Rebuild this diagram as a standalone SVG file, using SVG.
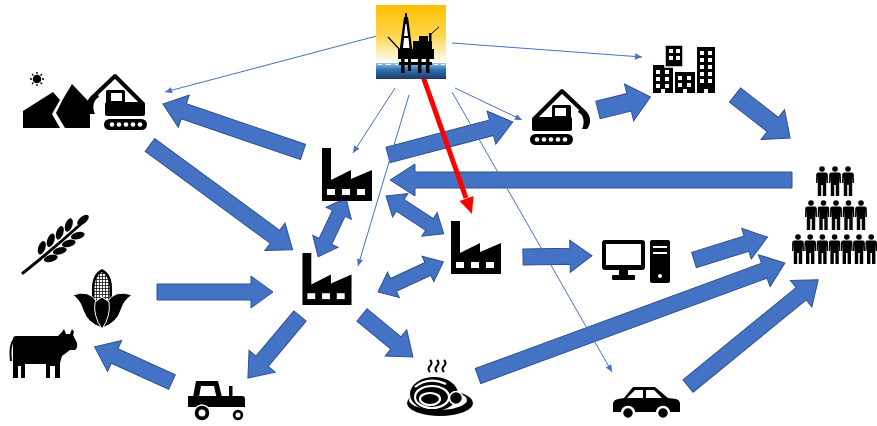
<svg xmlns="http://www.w3.org/2000/svg" xmlns:xlink="http://www.w3.org/1999/xlink" width="877" height="426" viewBox="0 0 877 426">
  <style>
    .blk { fill: #4472C4; stroke: #2F528F; stroke-width: 1; }
    .thin { stroke: #4472C4; stroke-width: 1; fill: none; marker-end: url(#ah); }
    .wht { fill: #fff; }
  </style>
  <defs>
    <marker id="ah" viewBox="0 0 10 10" refX="10" refY="5" markerWidth="8" markerHeight="7" markerUnits="userSpaceOnUse" orient="auto">
      <path d="M0,0.5 L10,5 L0,9.5 Z" fill="#4472C4"/>
    </marker>
    <linearGradient id="sky" x1="0" y1="0" x2="0" y2="1">
      <stop offset="0" stop-color="#FFC000"/>
      <stop offset="0.4" stop-color="#FFD54A"/>
      <stop offset="0.8" stop-color="#FFFFFF"/>
    </linearGradient>
    <linearGradient id="sea" x1="0" y1="0" x2="0" y2="1">
      <stop offset="0" stop-color="#9DC3E6"/>
      <stop offset="0.4" stop-color="#2E75B6"/>
      <stop offset="1" stop-color="#1F3864"/>
    </linearGradient>
    <pattern id="kernels" width="3" height="3" patternUnits="userSpaceOnUse">
      <rect width="3" height="3" fill="#fff"/>
      <path d="M0,0.4 H3 M0.4,0 V3" stroke="#000" stroke-width="0.8"/>
    </pattern>
    <symbol id="factory" viewBox="0 0 50 53">
      <path d="M0 0H9V32L29 22V31L50 22V53H0Z"/>
      <rect class="wht" x="5" y="41" width="8" height="6"/>
      <rect class="wht" x="20" y="41" width="8" height="6"/>
      <rect class="wht" x="35" y="41" width="8" height="6"/>
    </symbol>
    <symbol id="exc" viewBox="0 0 62 58">
      <path d="M4,31 L32,3 L54,24" fill="none" stroke="#000" stroke-width="4" stroke-linejoin="round"/>
      <path d="M50,20 C60,22 63,34 57,41 L52,41 C55,34 54,27 48,24 Z"/>
      <rect x="22" y="17" width="19" height="14" rx="1.5"/>
      <rect class="wht" x="25" y="20" width="11" height="8"/>
      <rect x="2" y="29" width="40" height="14" rx="2"/>
      <rect x="0" y="46" width="43" height="11" rx="5.5"/>
      <g class="wht">
        <circle cx="7" cy="51.5" r="2.3"/><circle cx="14" cy="51.5" r="2.3"/><circle cx="21" cy="51.5" r="2.3"/><circle cx="28" cy="51.5" r="2.3"/><circle cx="35" cy="51.5" r="2.3"/>
      </g>
    </symbol>
    <symbol id="person" viewBox="0 0 12 30">
      <circle cx="6" cy="3" r="2.8"/>
      <path d="M2.2,6.5 H9.8 Q11.6,6.5 11.8,8.5 L12,17 H10.6 L10.2,10 V30 H6.8 V19 H5.2 V30 H1.8 V10 L1.4,17 H0 L0.2,8.5 Q0.4,6.5 2.2,6.5 Z"/>
    </symbol>
  </defs>

  <rect width="877" height="426" fill="#fff"/>

  <!-- connectors -->
  <g id="connectors">
    <!-- block arrows -->
    <polygon class="blk" transform="translate(303,152) rotate(-161.1)" points="0,-8 126,-8 126,-17 148,0 126,17 126,8 0,8"/>
    <polygon class="blk" transform="translate(150,145) rotate(36.3)" points="0,-8 155,-8 155,-17 177,0 155,17 155,8 0,8"/>
    <polygon class="blk" transform="translate(388,155) rotate(-14.8)" points="0,-8 107,-8 107,-17 129,0 107,17 107,8 0,8"/>
    <polygon class="blk" transform="translate(598,110) rotate(-14)" points="0,-9 32,-9 32,-19 54,0 32,19 32,9 0,9"/>
    <polygon class="blk" transform="translate(735,95) rotate(38)" points="0,-9 48,-9 48,-19 70,0 48,19 48,9 0,9"/>
    <polygon class="blk" transform="translate(792,180) rotate(180)" points="0,-8 377,-8 377,-16 402,0 377,16 377,8 0,8"/>
    <polygon class="blk" transform="translate(346,198) rotate(115.4)" points="0,0 17,-14 17,-7 48,-7 48,-14 65,0 48,14 48,7 17,7 17,14"/>
    <polygon class="blk" transform="translate(386,196) rotate(33.2)" points="0,0 17,-14 17,-7 52,-7 52,-14 69,0 52,14 52,7 17,7 17,14"/>
    <polygon class="blk" transform="translate(378,292) rotate(-24.8)" points="0,0 17,-14 17,-7 55,-7 55,-14 72,0 55,14 55,7 17,7 17,14"/>
    <polygon class="blk" transform="translate(157,292)" points="0,-8 94,-8 94,-16 116,0 94,16 94,8 0,8"/>
    <polygon class="blk" transform="translate(523,257) rotate(-1)" points="0,-8 47,-8 47,-16 69,0 47,16 47,8 0,8"/>
    <polygon class="blk" transform="translate(694,260) rotate(-17.3)" points="0,-8 55,-8 55,-16 77,0 55,16 55,8 0,8"/>
    <polygon class="blk" transform="translate(300,316) rotate(130)" points="0,-8 59,-8 59,-17 81,0 59,17 59,8 0,8"/>
    <polygon class="blk" transform="translate(362,315) rotate(39.5)" points="0,-8 44,-8 44,-17 66,0 44,17 44,8 0,8"/>
    <polygon class="blk" transform="translate(172,382) rotate(-155.6)" points="0,-8 63,-8 63,-17 85,0 63,17 63,8 0,8"/>
    <polygon class="blk" transform="translate(478,376) rotate(-20.2)" points="0,-8 305,-8 305,-17 327,0 305,17 305,8 0,8"/>
    <polygon class="blk" transform="translate(688,386) rotate(-39.2)" points="0,-8 146,-8 146,-17 168,0 146,17 146,8 0,8"/>
    <!-- thin lines from the rig -->
    <line class="thin" x1="388" y1="33" x2="165" y2="92"/>
    <line class="thin" x1="452" y1="43" x2="642" y2="57"/>
    <line class="thin" x1="395" y1="88" x2="353" y2="153"/>
    <line class="thin" x1="409" y1="95" x2="358" y2="266"/>
    <line class="thin" x1="455" y1="88" x2="522" y2="120"/>
    <line class="thin" x1="452" y1="92" x2="612" y2="372"/>
    <!-- red arrow -->
    <line x1="420" y1="68" x2="466" y2="198" stroke="#FF0000" stroke-width="5"/>
    <polygon points="472,214 473.5,196 459.5,201" fill="#FF0000"/>
  </g>

  <!-- oil platform -->
  <g id="oil-rig">
    <rect x="376" y="5" width="70" height="74" fill="url(#sky)"/>
    <rect x="376" y="63" width="70" height="16" fill="url(#sea)"/>
    <path d="M378,64.5 h4 M386,64.5 h5 M395,64.5 h3 M434,64.5 h4 M441,64.5 h4" stroke="#fff" stroke-width="1"/>
    <g fill="#000">
      <polygon points="404,17 408,17 412.5,51 399.5,51"/>
      <path class="wht" d="M405.5,24 h1 l1.5,12 h-4 Z M404,38 h4.5 l1,10 h-6.5 Z"/>
      <rect x="405" y="13" width="2" height="5"/>
      <path d="M388,37 L401,51" stroke="#000" stroke-width="1.2"/>
      <path d="M431,34 L439,27" stroke="#000" stroke-width="1"/>
      <rect x="398" y="49" width="36" height="10"/>
      <rect x="413" y="41" width="19" height="9"/>
      <rect x="419" y="36" width="9" height="6"/>
      <rect x="429" y="33" width="2.5" height="17"/>
      <rect x="401" y="58" width="3.5" height="15"/>
      <rect x="408" y="58" width="3" height="13"/>
      <rect x="418" y="58" width="3.5" height="15"/>
      <rect x="426" y="58" width="3.5" height="15"/>
      <rect x="399" y="62" width="33" height="3"/>
    </g>
  </g>

  <!-- mining -->
  <g id="mining">
    <g stroke="#000" stroke-width="1.3">
      <circle cx="37" cy="79" r="3.6"/>
      <path d="M37,72 V74 M37,84 V86 M30,79 H32 M42,79 H44 M32,74 L33.5,75.5 M40.5,82.5 L42,84 M42,74 L40.5,75.5 M33.5,82.5 L32,84"/>
    </g>
    <path d="M23,128 L23,111 L53,92 L60,100 L52,114 L60,128 Z"/>
    <path d="M56,113 L63,99 L72,84 L90,103 L90,128 L65,128 Z"/>
    <use xlink:href="#exc" width="62" height="58" transform="translate(147,73) scale(-1,1)"/>
  </g>

  <!-- factories -->
  <g id="factory-a"><use xlink:href="#factory" x="322" y="148" width="50" height="53"/></g>
  <g id="factory-b"><use xlink:href="#factory" x="302" y="253" width="50" height="52"/></g>
  <g id="factory-c"><use xlink:href="#factory" x="450" y="221" width="52" height="53"/></g>

  <!-- construction -->
  <g id="excavator"><use xlink:href="#exc" x="530" y="88" width="62" height="58"/></g>

  <!-- city -->
  <g id="city">
    <rect x="653" y="65" width="20" height="28"/>
    <rect x="675" y="72" width="20" height="21"/>
    <rect x="697" y="47" width="18" height="46"/>
    <rect x="665" y="45" width="18" height="22" stroke="#fff" stroke-width="1.5"/>
    <g class="wht">
      <rect x="656" y="70" width="4" height="4"/><rect x="665" y="70" width="4" height="4"/>
      <rect x="656" y="77" width="4" height="4"/><rect x="665" y="77" width="4" height="4"/>
      <rect x="656" y="84" width="4" height="4"/><rect x="665" y="84" width="4" height="4"/>
      <rect x="678" y="76" width="4" height="4"/><rect x="687" y="76" width="4" height="4"/>
      <rect x="678" y="83" width="4" height="4"/><rect x="687" y="83" width="4" height="4"/>
      <rect x="700" y="51" width="4" height="4"/><rect x="708" y="51" width="4" height="4"/>
      <rect x="700" y="58" width="4" height="4"/><rect x="708" y="58" width="4" height="4"/>
      <rect x="700" y="65" width="4" height="4"/><rect x="708" y="65" width="4" height="4"/>
      <rect x="700" y="72" width="4" height="4"/><rect x="708" y="72" width="4" height="4"/>
      <rect x="700" y="79" width="4" height="4"/><rect x="708" y="79" width="4" height="4"/>
      <rect x="669" y="49" width="4" height="4"/><rect x="676" y="49" width="4" height="4"/>
      <rect x="669" y="56" width="4" height="4"/><rect x="676" y="56" width="4" height="4"/>
      <rect x="661" y="89" width="4" height="4"/><rect x="683" y="89" width="4" height="4"/><rect x="704" y="89" width="4" height="4"/>
    </g>
  </g>

  <!-- population -->
  <g id="people">
    <use xlink:href="#person" x="816" y="166" width="12" height="30"/>
    <use xlink:href="#person" x="829" y="166" width="12" height="30"/>
    <use xlink:href="#person" x="842" y="166" width="12" height="30"/>
    <use xlink:href="#person" x="805" y="200" width="12" height="30"/>
    <use xlink:href="#person" x="817.5" y="200" width="12" height="30"/>
    <use xlink:href="#person" x="830" y="200" width="12" height="30"/>
    <use xlink:href="#person" x="842.5" y="200" width="12" height="30"/>
    <use xlink:href="#person" x="855" y="200" width="12" height="30"/>
    <use xlink:href="#person" x="792" y="234" width="12" height="30"/>
    <use xlink:href="#person" x="804.2" y="234" width="12" height="30"/>
    <use xlink:href="#person" x="816.4" y="234" width="12" height="30"/>
    <use xlink:href="#person" x="828.6" y="234" width="12" height="30"/>
    <use xlink:href="#person" x="840.8" y="234" width="12" height="30"/>
    <use xlink:href="#person" x="853" y="234" width="12" height="30"/>
    <use xlink:href="#person" x="865.2" y="234" width="12" height="30"/>
  </g>

  <!-- computer -->
  <g id="computer">
    <rect x="602" y="240" width="43" height="30" rx="3"/>
    <rect class="wht" x="606" y="244" width="35" height="21"/>
    <rect x="619" y="269" width="9" height="7"/>
    <rect x="612" y="275" width="23" height="5" rx="1"/>
    <rect x="650" y="240" width="20" height="43" rx="2"/>
    <rect class="wht" x="653" y="246" width="14" height="2"/>
    <rect class="wht" x="653" y="252" width="14" height="2"/>
    <circle class="wht" cx="660" cy="276" r="2"/>
  </g>

  <!-- grain -->
  <g id="wheat">
    <path d="M23,273 Q52,250 82,223" fill="none" stroke="#000" stroke-width="3" stroke-linecap="round"/>
    <g>
      <ellipse cx="41.8" cy="247.8" rx="7" ry="3.5" transform="rotate(-70 41.8 247.8)"/>
      <ellipse cx="50.8" cy="258.4" rx="7" ry="3.5" transform="rotate(-15 50.8 258.4)"/>
      <ellipse cx="50.8" cy="240.3" rx="7" ry="3.5" transform="rotate(-70 50.8 240.3)"/>
      <ellipse cx="59.8" cy="250.9" rx="7" ry="3.5" transform="rotate(-15 59.8 250.9)"/>
      <ellipse cx="59.8" cy="232.8" rx="7" ry="3.5" transform="rotate(-70 59.8 232.8)"/>
      <ellipse cx="68.8" cy="243.4" rx="7" ry="3.5" transform="rotate(-15 68.8 243.4)"/>
      <ellipse cx="68.8" cy="225" rx="7" ry="3.5" transform="rotate(-70 68.8 225)"/>
      <ellipse cx="77.8" cy="235.6" rx="7" ry="3.5" transform="rotate(-15 77.8 235.6)"/>
      <ellipse cx="83" cy="220" rx="7" ry="3.5" transform="rotate(-40 83 220)"/>
    </g>
  </g>

  <g id="corn">
    <path d="M102,269 Q113,274 112,292 V306 H92 V292 Q91,274 102,269 Z"/>
    <path d="M102,272 Q110,276 109.5,292 V304 H94.5 V292 Q94,276 102,272 Z" fill="url(#kernels)"/>
    <path d="M73,295 Q89,289 97,302 Q101,313 102,328 Q87,323 83,310 Q80,300 73,295 Z" stroke="#fff" stroke-width="1"/>
    <path d="M132,295 Q115,289 107,302 Q103,313 102,328 Q117,323 121,310 Q124,300 132,295 Z" stroke="#fff" stroke-width="1"/>
    <path d="M102,329 Q93,316 95,302 L102,297 L109,302 Q111,316 102,329 Z" stroke="#fff" stroke-width="1"/>
  </g>

  <!-- livestock -->
  <g id="cow">
    <path d="M13,339 Q13,336 16,336 H58 L62,332 L64,329 L66,334 L70,334 L72,329 L74,332 L73,335 L77,343 Q78,348 75,350 L70,350 L62,356 L60,363 V378 H55 V366 H50 V378 H46 V364 H25 V378 H21 V366 H18 V378 H13 Z"/>
    <path d="M14,339 Q9,346 11,361" fill="none" stroke="#000" stroke-width="2"/>
  </g>

  <!-- tractor -->
  <g id="tractor">
    <path d="M193,397 L196,381 H218 L222,397 Z"/>
    <path class="wht" d="M199,397 L201,386 H214 L216.5,397 Z"/>
    <rect x="229" y="386" width="3.5" height="11"/>
    <path d="M188,396 H242 Q245,396 245,399 V407 H188 Z"/>
    <circle cx="202" cy="413" r="8" stroke="#fff" stroke-width="1.5"/>
    <circle class="wht" cx="202" cy="413" r="3.5"/>
    <circle cx="238" cy="415" r="6" stroke="#fff" stroke-width="1.5"/>
    <circle class="wht" cx="238" cy="415" r="2.5"/>
  </g>

  <!-- food -->
  <g id="noodles">
    <path d="M430,372 q-3,-3 0,-6 q3,-3 0,-6 M437,372 q-3,-3 0,-6 q3,-3 0,-6 M444,372 q-3,-3 0,-6 q3,-3 0,-6" fill="none" stroke="#000" stroke-width="2"/>
    <ellipse cx="440" cy="403" rx="33" ry="13"/>
    <ellipse class="wht" cx="438" cy="400" rx="29" ry="10"/>
    <ellipse cx="434" cy="394" rx="24" ry="17"/>
    <ellipse cx="432" cy="397" rx="17" ry="11" fill="none" stroke="#fff" stroke-width="2.2"/>
    <ellipse cx="430" cy="399" rx="10" ry="6" fill="none" stroke="#fff" stroke-width="2.2"/>
    <path d="M415,387 Q428,376 446,384" fill="none" stroke="#fff" stroke-width="2.2"/>
    <circle cx="456" cy="398" r="6.5" stroke="#fff" stroke-width="1.5"/>
  </g>

  <!-- car -->
  <g id="car">
    <path d="M613,412 V404 Q613,400 618,399 L624,398 L633,387 H655 L668,398 L676,399 Q680,400 680,404 V412 Z"/>
    <path class="wht" d="M627,398 L635,390 H643 V398 Z M646,390 H654 L662,398 H646 Z"/>
    <circle cx="628" cy="413" r="6" stroke="#fff" stroke-width="2.5"/>
    <circle cx="663" cy="413" r="6" stroke="#fff" stroke-width="2.5"/>
  </g>
</svg>
